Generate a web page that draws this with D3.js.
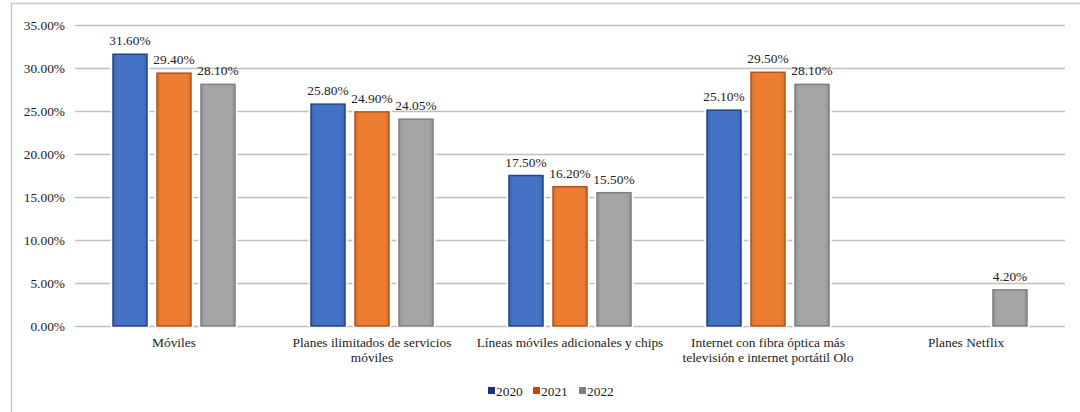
<!DOCTYPE html>
<html>
<head>
<meta charset="utf-8">
<script src="https://cdn.jsdelivr.net/npm/d3@7"></script>
<style>
  body { margin: 0; background: #fff; }
</style>
</head>
<body>
<div id="chart"></div>
<script>
// données
const categorias = [
  ["Móviles"],
  ["Planes ilimitados de servicios", "móviles"],
  ["Líneas móviles adicionales y chips"],
  ["Internet con fibra óptica más", "televisión e internet portátil Olo"],
  ["Planes Netflix"]
]
const anios = ["2020", "2021", "2022"]
const v2020 = [31.6, 25.8, 17.5, 25.1, null]
const v2021 = [29.4, 24.9, 16.2, 29.5, null]
const v2022 = [28.1, 24.05, 15.5, 28.1, 4.2]
const ticks = [0, 5, 10, 15, 20, 25, 30, 35]

const series = [v2020, v2021, v2022]
const relleno = ["#4472C4", "#ED7D31", "#A5A5A5"]
const borde = ["#23438a", "#b5541a", "#7f7f7f"]
const leyenda = ["#1b2f7a", "#c4460e", "#7f7f7f"]
const fuente = "'Liberation Serif'"
const tam = 13.4

const W = 1080, H = 412
let margin = { top: 25, right: 15, bottom: 86, left: 75 },
    width = W - margin.left - margin.right,
    height = H - margin.top - margin.bottom

let svg = d3.select("#chart").append("svg")
    .attr("width", W).attr("height", H)
    .attr("font-family", fuente)

// cadre
svg.append("path")
    .attr("d", "M11.5," + H + "V3.5H" + W)
    .attr("fill", "none").attr("stroke", "#c8c8c8").attr("stroke-width", 1.5)

let g = svg.append("g").attr("transform", "translate(" + margin.left + "," + margin.top + ")")

let x0 = d3.scaleBand().domain(d3.range(categorias.length)).range([0, width])
let x1 = d3.scaleBand().domain(anios).range([x0.bandwidth() / 2 - 61, x0.bandwidth() / 2 + 61]).paddingInner(0.227)
let y = d3.scaleLinear().domain([0, 35]).range([height, 0])

// grille
g.append("g").selectAll("line").data(ticks).join("line")
    .attr("x1", 0).attr("x2", width)
    .attr("y1", d => y(d) + 0.5).attr("y2", d => y(d) + 0.5)
    .attr("stroke", "#bfbfbf").attr("stroke-width", 1.5)

// axe Y
let yAxis = g.append("g").call(d3.axisLeft(y).tickValues(ticks).tickSize(0).tickPadding(10)
    .tickFormat(d => d.toFixed(2) + "%"))
yAxis.attr("font-family", fuente).attr("font-size", tam)
yAxis.select(".domain").remove()
yAxis.selectAll("text").attr("font-family", fuente).attr("font-size", tam).attr("fill", "#222")

// barres
const defs = svg.append("defs")
relleno.forEach((c, i) => {
  let grad = defs.append("linearGradient").attr("id", "grad" + i)
  grad.append("stop").attr("offset", "0%").attr("stop-color", d3.color(c).darker(0.35))
  grad.append("stop").attr("offset", "12%").attr("stop-color", c)
  grad.append("stop").attr("offset", "88%").attr("stop-color", c)
  grad.append("stop").attr("offset", "100%").attr("stop-color", d3.color(c).darker(0.35))
})

series.forEach((serie, i) => {
  let datos = serie.map((v, j) => ({ v: v, j: j })).filter(d => d.v !== null)
  // halo blanc autour des barres
  g.append("g").selectAll("rect").data(datos).join("rect")
      .attr("x", d => x0(d.j) + x1(anios[i]))
      .attr("y", d => y(d.v))
      .attr("width", x1.bandwidth())
      .attr("height", d => y(0) - y(d.v) - 1)
      .attr("fill", "#fff")
      .attr("stroke", "#fff").attr("stroke-width", 5)
  g.append("g").selectAll("rect").data(datos).join("rect")
      .attr("x", d => x0(d.j) + x1(anios[i]))
      .attr("y", d => y(d.v))
      .attr("width", x1.bandwidth())
      .attr("height", d => y(0) - y(d.v))
      .attr("fill", "url(#grad" + i + ")")
      .attr("stroke", borde[i]).attr("stroke-width", 1.5)
  g.append("g").selectAll("text").data(datos).join("text")
      .attr("x", d => x0(d.j) + x1(anios[i]) + x1.bandwidth() / 2)
      .attr("y", d => y(d.v) - 9)
      .attr("text-anchor", "middle")
      .attr("font-family", fuente)
      .attr("font-size", tam)
      .attr("fill", "#222")
      .text(d => d.v.toFixed(2) + "%")
})

// étiquettes catégories
categorias.forEach((lineas, j) => {
  let t = g.append("text")
      .attr("x", x0(j) + x0.bandwidth() / 2)
      .attr("y", height + 21)
      .attr("text-anchor", "middle")
      .attr("font-family", fuente)
      .attr("font-size", tam)
      .attr("fill", "#222")
  lineas.forEach((l, k) => {
    t.append("tspan").attr("x", x0(j) + x0.bandwidth() / 2).attr("dy", k === 0 ? 0 : 15).text(l)
  })
})

// légende
let leg = svg.append("g").attr("transform", "translate(488,391)")
let posLeg = [0, 45, 91]
anios.forEach((a, i) => {
  leg.append("rect").attr("x", posLeg[i]).attr("y", -4).attr("width", 7).attr("height", 7).attr("fill", leyenda[i])
  leg.append("text").attr("x", posLeg[i] + 8).attr("y", 4.5)
      .attr("font-family", fuente).attr("font-size", tam).attr("fill", "#222").text(a)
})
</script>
</body>
</html>
